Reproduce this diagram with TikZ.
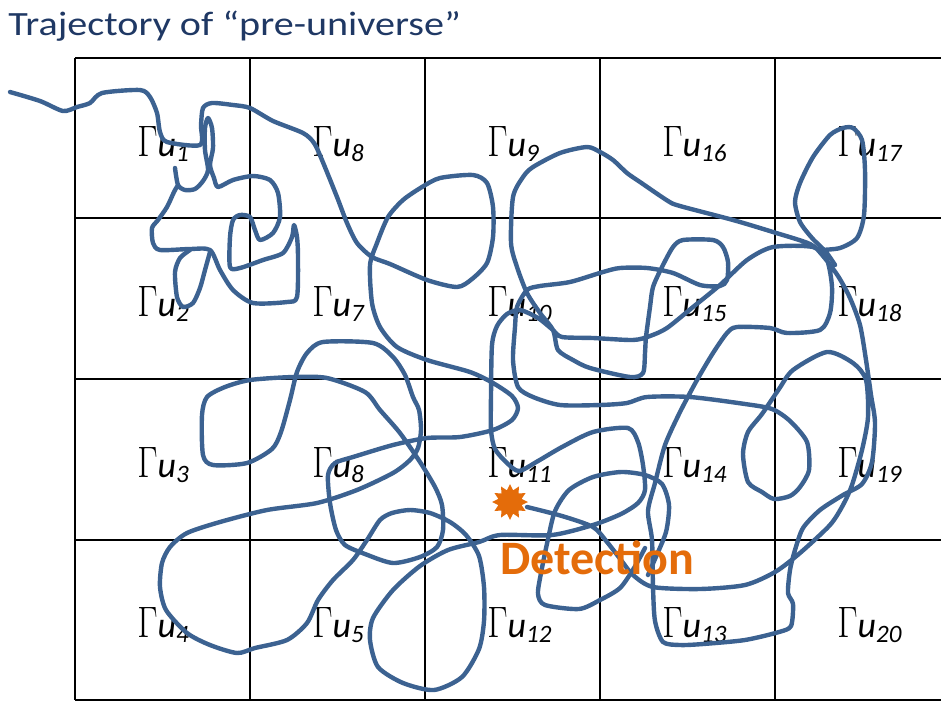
\documentclass[tikz,border=0pt]{standalone}
\usepackage{fix-cm}
\usepackage{fontspec}
\usepackage{tikz}
\usetikzlibrary{shapes.geometric}

\newfontfamily\carl{Carlito}
\definecolor{trajblue}{RGB}{60,98,145}
\definecolor{titleblue}{RGB}{31,56,100}
\definecolor{detorange}{RGB}{228,108,10}

% label of one cell: Gamma u_n
\newcommand{\glab}[1]{\scalebox{0.8}[1]{$\Gamma$}{\carl\itshape\fontsize{18}{20}\selectfont u\raisebox{-2.5pt}{\fontsize{12.5}{14}\selectfont #1}}}

\tikzset{
  gridline/.style={black, line width=1pt},
  traj/.style={draw=trajblue, line width=2.2pt, line join=round, line cap=round},
  cell/.style={anchor=base west, inner sep=0pt, font=\fontsize{22}{24}\selectfont}
}

\begin{document}
\begin{tikzpicture}[x=0.5pt, y=-0.5pt]
        \useasboundingbox (0,0) rectangle (941,702);

        % Title
        \node[anchor=base west, inner sep=0pt, text=titleblue, font=\carl\fontsize{17}{20}\selectfont] (title) at (8,35) {\scalebox{1.18}[1]{Trajectory of “pre-universe”}};

        % Grid
        \foreach \y in {58,218,379,540,700}
          \draw[gridline] (75,\y) -- (941,\y);
        \foreach \x in {75,250,425,600,775}
          \draw[gridline] (\x,58) -- (\x,700);

        % Cell labels
        \foreach \n [count=\i] in {1,8,9,16,17,2,7,10,15,18,3,8,11,14,19,4,5,12,13,20} {
          \pgfmathtruncatemacro{\c}{mod(\i-1,5)}
          \pgfmathtruncatemacro{\r}{div(\i-1,5)}
          \node[cell] (g\i) at ({137+175*\c},{156+160.5*\r}) {\glab{\n}};
        }

        % Trajectory (main run, ends at the detection point)
        \draw[traj] plot[smooth, tension=0.45] coordinates {
          (10,92) (40,101) (63,111) (77,107) (90,103) (102,93) (140,90) (150,97) (157,113) (160,132) (167,142) (200,145)
          (201,125) (203,108) (212,103) (233,105) (250,108) (273,121) (303,133) (314,143) (322,160) (337,197) (347,223)
          (357,243) (372,257) (390,264) (427,280) (457,287) (472,279) (487,263) (493,237) (493,207) (487,183) (473,175)
          (440,178) (422,187) (403,200) (388,217) (377,243) (370,265) (372,303) (380,327) (397,347) (427,360) (470,372)
          (493,383) (512,396) (518,408) (512,420) (493,430) (460,437) (427,438) (393,445) (353,457) (335,463) (328,475)
          (330,503) (336,530) (345,545) (365,554) (393,563) (420,557) (437,547) (443,530) (442,505) (435,487) (420,462)
          (400,433) (380,410) (365,392) (327,378) (293,377) (250,380) (225,387) (207,397) (202,415) (203,455) (213,465)
          (247,463) (272,449) (281,432) (290,400) (297,372) (307,353) (323,342) (373,343) (393,357) (405,375) (413,397)
          (419,410) (421,430) (418,448) (410,460) (393,473) (357,490) (317,503) (267,510) (220,522) (187,533) (170,547)
          (162,563) (160,587) (166,610) (187,633) (210,645) (237,653) (255,648) (287,640) (307,623) (318,600) (333,580)
          (353,560) (367,540) (380,520) (392,513) (410,510) (430,513) (450,522) (466,535) (479,556) (484,587) (484,621)
          (479,649) (462,677) (434,690) (403,683) (378,667) (370,640) (373,618) (393,590) (420,566) (448,550) (479,542)
          (500,535) (552,535) (593,525) (621,514) (638,503) (645,490) (643,465) (638,442) (628,428) (593,432) (562,447)
          (538,461) (519,471) (507,463) (495,449) (491,430) (491,395) (492,345) (497,326) (507,314) (520,310) (538,318)
          (553,330) (562,337) (593,338) (633,340) (650,336) (667,328) (693,307) (720,285) (747,260) (773,247) (813,247)
          (827,260) (832,287) (830,313) (820,330) (787,333) (770,328) (737,327) (727,333) (713,353) (697,380) (680,412)
          (665,445) (655,483) (648,511) (652,540) (653,587) (655,621) (663,642) (680,645) (703,644) (745,640) (779,632)
          (791,626) (793,604) (788,593) (790,570) (795,550) (803,528) (820,510) (843,495) (862,484) (872,462) (875,423)
          (871,395) (866,360) (860,325) (850,298) (838,276) (823,256) (810,244) (773,232) (733,220) (680,206) (668,201)
          (640,182) (627,173) (613,160) (600,152) (587,147) (560,153) (533,167) (523,177) (513,197) (511,243) (517,267)
          (527,293) (540,313) (553,330) (558,350) (573,360) (590,368) (630,377) (643,373) (645,353) (646,337) (650,307)
          (653,287) (662,267) (673,247) (683,240) (713,240) (723,247) (728,262) (727,280) (720,286) (700,285) (673,273)
          (647,268) (620,268) (603,272) (570,282) (540,286) (527,290) (517,307) (515,327) (513,360) (518,387) (533,397)
          (560,405) (600,405) (627,403) (647,397) (690,397) (745,404) (772,409) (790,421) (807,442) (809,470) (800,487)
          (790,496) (774,499) (762,492) (748,482) (743,454) (748,432) (762,414) (779,389) (793,370) (827,352) (853,363)
          (866,380) (868,417) (862,450) (852,485) (843,505) (830,525) (800,553) (775,572) (745,585) (700,589) (653,587)
          (633,575) (621,560) (607,542) (593,527) (562,516) (527,507)
        };

        % Knot in the upper left cells
        \draw[traj] plot[smooth, tension=0.45] coordinates {
          (175,168) (178,185) (185,190) (195,189) (203,181) (208,170) (205,150) (205,128) (208,118) (212,128) (213,148)
          (210,165) (214,178) (218,187) (233,180) (253,176) (270,180) (278,193) (280,217) (273,233) (260,240) (255,230)
          (250,217) (240,215) (233,220) (230,237) (230,267) (240,268) (263,260) (283,253) (292,237) (294,225) (297,237)
          (298,257) (297,297) (287,302) (253,303) (233,290) (220,270) (210,250) (190,249) (160,250) (153,243) (152,228)
          (158,220) (167,207) (174,192) (178,185)
        };
        \draw[traj] plot[smooth, tension=0.45] coordinates {
          (210,252) (205,270) (200,288) (193,303) (183,307) (177,297) (175,272) (180,258) (190,250)
        };

        % Small loop next to the detection point
        \draw[traj] plot[smooth, tension=0.45] coordinates {
          (645,548) (634,568) (620,588) (600,600) (579,609) (545,605) (538,594) (541,573) (548,539) (555,511) (569,490)
          (593,477) (621,472) (645,475) (662,484) (669,505) (666,532) (655,559) (648,575)
        };

        % Loop in the top right cell
        \draw[traj] plot[smooth, tension=0.45] coordinates {
          (820,250) (840,248) (857,238) (864,215) (865,170) (862,140) (853,128) (843,128) (830,135) (813,157) (800,183)
          (795,202) (800,222) (812,238) (826,252) (835,265)
        };

        % Detection
        \node[star, star points=12, star point ratio=1.5, fill=detorange, minimum size=18pt, inner sep=0pt] (det) at (510,502) {};
        \node[anchor=base west, inner sep=0pt, text=detorange, font=\carl\bfseries\fontsize{24}{27}\selectfont] (dettext) at (500,574) {Detection};
      \end{tikzpicture}
\end{document}
